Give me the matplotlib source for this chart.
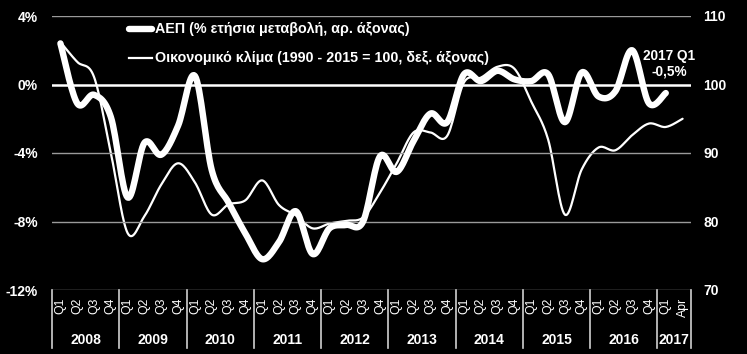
import numpy as np
import matplotlib.pyplot as plt
from matplotlib.transforms import blended_transform_factory

plt.rcParams['font.family'] = ['Liberation Sans', 'DejaVu Sans']

years = ['2008', '2009', '2010', '2011', '2012', '2013', '2014', '2015', '2016', '2017']
periods = ['Q1', 'Q2', 'Q3', 'Q4'] * 9 + ['Q1', 'Apr']

gdp = [2.4, -1.1, -0.6, -1.9, -6.6, -3.4, -4.1, -2.4, 0.5, -5.0,
       -6.9, -8.7, -10.2, -9.2, -7.4, -9.9, -8.4, -8.2, -8.0, -4.2,
       -5.1, -3.3, -1.7, -2.2, 0.6, 0.2, 0.8, 0.3, 0.2, 0.6,
       -2.2, 0.7, -0.7, -0.4, 2.0, -1.1, -0.5]

climate = [106.2, 103.3, 101.1, 90.0, 78.3, 80.8, 85.4, 88.5, 85.7, 81.0,
           82.5, 83.1, 86.0, 82.4, 80.9, 79.0, 79.7, 80.1, 80.6, 84.2,
           88.5, 93.0, 93.0, 92.5, 100.3, 101.0, 102.6, 102.3, 97.5, 92.0,
           81.0, 87.6, 90.8, 90.4, 92.6, 94.3, 93.8, 95.0]

gdp_label = 'ΑΕΠ (% ετήσια μεταβολή, αρ. άξονας)'
climate_label = 'Οικονομικό κλίμα (1990 - 2015 = 100, δεξ. άξονας)'
note = '2017 Q1\n-0,5%'


def smooth(y, n=16):
	# catmull-rom, roughly what excel does for "smoothed line"
	y = np.asarray(y, dtype=float)
	x = np.arange(len(y), dtype=float)
	p = np.concatenate([[y[0]], y, [y[-1]]])
	px = np.concatenate([[x[0]], x, [x[-1]]])
	xs, ys = [], []
	for i in range(len(y) - 1):
		t = np.linspace(0, 1, n, endpoint=False)
		for arr, out in ((px, xs), (p, ys)):
			p0, p1, p2, p3 = arr[i], arr[i + 1], arr[i + 2], arr[i + 3]
			out.append(0.5 * (2 * p1 + (-p0 + p2) * t + (2 * p0 - 5 * p1 + 4 * p2 - p3) * t ** 2
			                  + (-p0 + 3 * p1 - 3 * p2 + p3) * t ** 3))
	xs.append([x[-1]])
	ys.append([y[-1]])
	return np.concatenate(xs), np.concatenate(ys)


fig = plt.figure(figsize=(7.47, 3.54), dpi=100, facecolor='black')
ax = fig.add_axes([52 / 747, 1 - 290 / 354, 639 / 747, 274 / 354])
ax.set_facecolor('black')
ax2 = ax.twinx()

ax.set_xlim(-0.5, len(periods) - 0.5)
ax.set_ylim(-12, 4)
ax2.set_ylim(70, 110)

for v in [-12, -8, -4, 4]:
	ax.axhline(v, color='#9a9a9a', lw=1.0, zorder=1)
ax.axhline(0, color='white', lw=1.8, zorder=1)

gx, gy = smooth(gdp)
ax2.plot(*smooth(climate), color='white', lw=1.6, solid_capstyle='round', zorder=3)
ax.plot(gx, gy, color='white', lw=4.6, solid_capstyle='round', solid_joinstyle='round', zorder=4)
ax.set_zorder(ax2.get_zorder() + 1)
ax.patch.set_visible(False)
ax2.patch.set_visible(False)
fig.patch.set_facecolor('black')

for a in (ax, ax2):
	for s in a.spines.values():
		s.set_visible(False)
	a.set_xticks([])

ax.set_yticks([-12, -8, -4, 0, 4])
ax.set_yticklabels(['-12%', '-8%', '-4%', '0%', '4%'])
ax.tick_params(axis='y', length=0, pad=10, labelcolor='white', labelsize=10)
ax2.set_yticks([70, 80, 90, 100, 110])
ax2.tick_params(axis='y', length=0, pad=9, labelcolor='white', labelsize=10)
for lab in ax.get_yticklabels() + ax2.get_yticklabels():
	lab.set_fontweight('bold')

# category axis
tr = blended_transform_factory(ax.transData, ax.transAxes)
for i, p in enumerate(periods):
	ax.text(i, -0.027, p, transform=tr, rotation=90, ha='center', va='top',
	        color='white', fontsize=8.8, clip_on=False)
bounds = [-0.5 + 4 * k for k in range(10)] + [len(periods) - 0.5]
for b in bounds:
	ax.plot([b, b], [0, -0.21], transform=tr, color='#d0d0d0', lw=1.2, clip_on=False)
for k, yr in enumerate(years):
	mid = (bounds[k] + bounds[k + 1]) / 2
	ax.text(mid, -0.183, yr, transform=tr, ha='center', va='center',
	        color='white', fontsize=10, fontweight='bold', clip_on=False)

# legend
ax.plot([0.121, 0.156], [0.953, 0.953], transform=ax.transAxes, color='white', lw=4.6,
        solid_capstyle='round', clip_on=False)
ax.text(0.161, 0.953, gdp_label, transform=ax.transAxes, color='white', fontsize=10.3,
        fontweight='bold', va='center')
ax.plot([0.121, 0.156], [0.847, 0.847], transform=ax.transAxes, color='white', lw=1.6,
        clip_on=False)
ax.text(0.161, 0.847, climate_label, transform=ax.transAxes, color='white', fontsize=10.3,
        fontweight='bold', va='center')

ax.text(36.2, 1.2, note, ha='center', va='center', color='white', fontsize=9.8,
        fontweight='bold', linespacing=1.1)

fig.savefig('out.png', dpi=100, facecolor='black')
